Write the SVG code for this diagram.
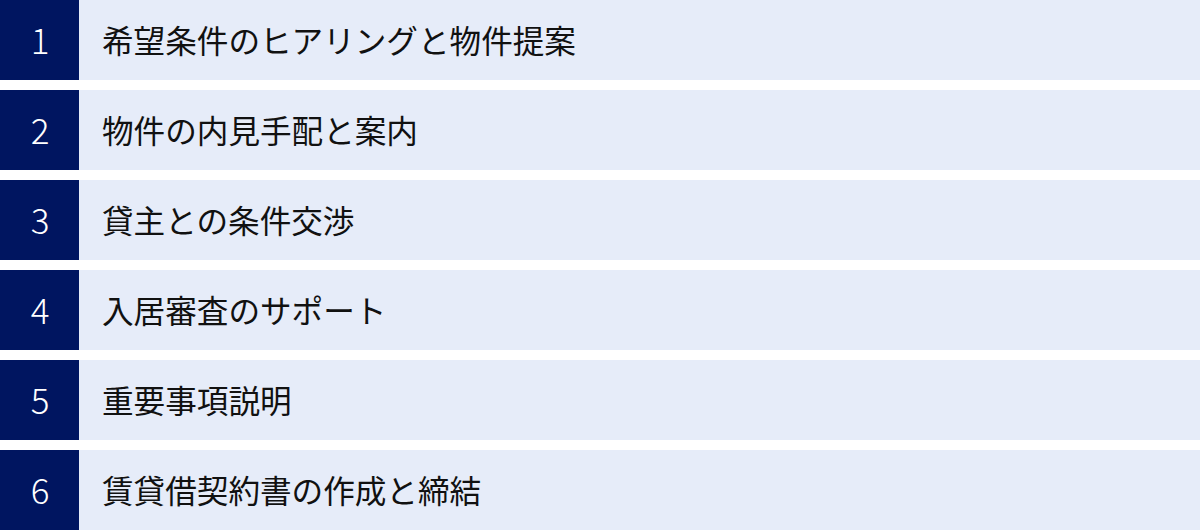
<svg xmlns="http://www.w3.org/2000/svg" width="1200" height="530" viewBox="0 0 1200 530">
<style>
.num{fill:#001560}
.band{fill:#e6ecf9}
.nt{font-family:"Noto Sans CJK JP","Noto Sans",sans-serif;font-weight:300;font-size:35px;fill:#ffffff;text-anchor:middle}
.lt{font-family:"Noto Sans CJK JP",sans-serif;font-size:31.6px;fill:#111111}
</style>
<rect width="1200" height="530" fill="#ffffff"/>
<g id="step1"><rect class="num" x="0" y="0" width="79" height="80"/><rect class="band" x="79" y="0" width="1121" height="80"/><text class="nt" x="40" y="54">1</text><text class="lt" x="102" y="53">希望条件のヒアリングと物件提案</text></g>
<g id="step2"><rect class="num" x="0" y="90" width="79" height="80"/><rect class="band" x="79" y="90" width="1121" height="80"/><text class="nt" x="40" y="144">2</text><text class="lt" x="102" y="143">物件の内見手配と案内</text></g>
<g id="step3"><rect class="num" x="0" y="180" width="79" height="80"/><rect class="band" x="79" y="180" width="1121" height="80"/><text class="nt" x="40" y="234">3</text><text class="lt" x="102" y="233">貸主との条件交渉</text></g>
<g id="step4"><rect class="num" x="0" y="270" width="79" height="80"/><rect class="band" x="79" y="270" width="1121" height="80"/><text class="nt" x="40" y="324">4</text><text class="lt" x="102" y="323">入居審査のサポート</text></g>
<g id="step5"><rect class="num" x="0" y="360" width="79" height="80"/><rect class="band" x="79" y="360" width="1121" height="80"/><text class="nt" x="40" y="414">5</text><text class="lt" x="102" y="413">重要事項説明</text></g>
<g id="step6"><rect class="num" x="0" y="450" width="79" height="80"/><rect class="band" x="79" y="450" width="1121" height="80"/><text class="nt" x="40" y="504">6</text><text class="lt" x="102" y="503">賃貸借契約書の作成と締結</text></g>
<g id="connectors"></g>
</svg>
